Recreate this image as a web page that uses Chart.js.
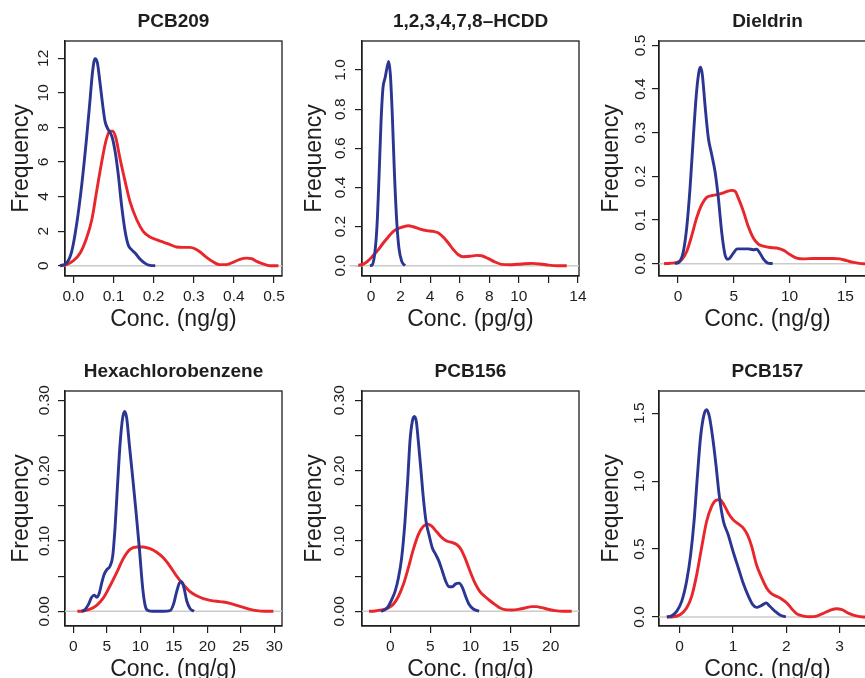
<!DOCTYPE html>
<html>
<head>
<meta charset="utf-8">
<script src="https://cdn.jsdelivr.net/npm/chart.js@4.4.0/dist/chart.umd.min.js"></script>
<style>
  html, body { margin: 0; padding: 0; background: #fff; overflow: hidden; }
  body { width: 865px; height: 678px; position: relative; }
  canvas { position: absolute; }
</style>
</head>
<body>
<script>
// density curves, [conc, frequency]
const pcb209Blue = [[-0.033,0],[-0.017,0.15],[-0.004,0.83],[0.008,2.37],[0.021,4.69],[0.033,7.39],[0.042,9.7],[0.048,11.25],[0.054,11.98],[0.06,11.73],[0.066,10.67],[0.073,9.32],[0.079,8.35],[0.087,7.87],[0.096,7.49],[0.104,6.62],[0.112,5.27],[0.12,3.53],[0.129,1.99],[0.137,1.18],[0.145,0.93],[0.156,0.68],[0.166,0.39],[0.179,0.135],[0.191,0.02],[0.204,0]];
const pcb209Red = [[-0.033,0],[-0.017,0.06],[0,0.29],[0.017,0.73],[0.033,1.6],[0.046,2.66],[0.058,4.3],[0.071,6.04],[0.081,7.2],[0.091,7.78],[0.098,7.78],[0.106,7.39],[0.116,6.23],[0.129,4.88],[0.141,3.72],[0.158,2.66],[0.174,1.99],[0.191,1.66],[0.208,1.5],[0.224,1.37],[0.241,1.22],[0.257,1.08],[0.274,1.06],[0.291,1.06],[0.303,0.98],[0.316,0.79],[0.332,0.48],[0.349,0.21],[0.365,0.06],[0.382,0.06],[0.399,0.21],[0.415,0.37],[0.432,0.44],[0.444,0.41],[0.457,0.25],[0.473,0.1],[0.49,0],[0.511,0]];

const hcddBlue = [[-0.07,0],[0.09,0.005],[0.27,0.073],[0.41,0.21],[0.54,0.448],[0.68,0.738],[0.81,0.908],[0.95,0.959],[1.08,1.01],[1.2,1.044],[1.31,0.976],[1.44,0.772],[1.58,0.482],[1.74,0.227],[1.89,0.09],[2.08,0.022],[2.3,0]];
const hcddRed = [[-1.45,0],[-0.86,0.002],[-0.52,0.008],[-0.18,0.026],[0.16,0.053],[0.5,0.082],[0.83,0.116],[1.17,0.147],[1.51,0.175],[1.85,0.19],[2.19,0.199],[2.53,0.204],[2.86,0.199],[3.32,0.187],[3.77,0.179],[4.22,0.175],[4.56,0.167],[4.9,0.145],[5.23,0.116],[5.57,0.082],[5.91,0.056],[6.25,0.046],[6.7,0.048],[7.15,0.053],[7.49,0.051],[7.94,0.036],[8.39,0.019],[8.84,0.007],[9.52,0.005],[10.2,0.009],[10.87,0.012],[11.44,0.009],[12,0.003],[12.68,0],[13.24,0]];

const dieldrinBlue = [[-0.27,0],[0.12,0.004],[0.48,0.028],[0.78,0.082],[1.08,0.173],[1.37,0.288],[1.67,0.395],[1.91,0.444],[2.03,0.45],[2.18,0.433],[2.42,0.364],[2.72,0.288],[3.02,0.25],[3.32,0.211],[3.62,0.15],[3.91,0.074],[4.21,0.021],[4.45,0.01],[4.66,0.013],[4.96,0.024],[5.32,0.034],[5.86,0.034],[6.3,0.034],[6.75,0.032],[7.05,0.033],[7.35,0.024],[7.65,0.011],[8.01,0.002],[8.49,0]];
const dieldrinRed = [[-1.25,0],[-0.72,0.001],[-0.12,0.003],[0.33,0.009],[0.78,0.028],[1.22,0.063],[1.67,0.105],[2.12,0.135],[2.57,0.152],[3.02,0.156],[3.47,0.158],[3.91,0.161],[4.36,0.165],[4.81,0.168],[5.11,0.166],[5.41,0.15],[5.86,0.12],[6.3,0.085],[6.75,0.059],[7.2,0.045],[7.65,0.04],[8.25,0.037],[8.84,0.036],[9.44,0.031],[10.04,0.021],[10.64,0.013],[11.23,0.011],[12.13,0.012],[13.03,0.012],[13.92,0.012],[14.52,0.011],[15.12,0.007],[15.72,0.003],[16.61,0],[18.5,0]];

const hcbBlue = [[1.24,0],[1.74,0.0024],[2.24,0.0095],[2.74,0.02],[3.13,0.023],[3.48,0.02],[3.88,0.026],[4.23,0.04],[4.58,0.052],[4.98,0.059],[5.47,0.064],[5.87,0.078],[6.22,0.118],[6.57,0.175],[6.97,0.237],[7.36,0.275],[7.66,0.284],[7.96,0.275],[8.36,0.237],[8.86,0.19],[9.35,0.142],[9.85,0.09],[10.35,0.033],[10.75,0.007],[11.19,0.001],[11.94,0],[13.43,0],[14.43,0.001],[14.93,0.0095],[15.42,0.028],[15.82,0.04],[16.17,0.042],[16.52,0.033],[16.92,0.015],[17.41,0.004],[18.01,0]];
const hcbRed = [[0.6,0],[1.49,0.0005],[2.49,0.003],[3.48,0.0085],[4.48,0.019],[5.47,0.036],[6.47,0.055],[7.46,0.075],[8.46,0.088],[9.45,0.0915],[10.45,0.0915],[11.44,0.089],[12.44,0.084],[13.43,0.076],[14.43,0.064],[15.42,0.05],[16.42,0.038],[17.41,0.028],[18.41,0.022],[19.4,0.018],[20.4,0.0156],[21.39,0.0142],[22.39,0.0133],[23.38,0.0114],[24.38,0.0085],[25.37,0.0057],[26.37,0.0028],[27.36,0.0009],[28.61,0],[29.85,0]];

const pcb156Blue = [[-1.16,0],[-0.67,0.0024],[-0.25,0.007],[0.17,0.0166],[0.58,0.028],[1,0.047],[1.41,0.076],[1.83,0.128],[2.16,0.185],[2.45,0.242],[2.74,0.27],[2.99,0.277],[3.24,0.27],[3.49,0.242],[3.83,0.199],[4.12,0.161],[4.45,0.128],[4.82,0.109],[5.24,0.09],[5.65,0.081],[6.07,0.071],[6.49,0.057],[6.9,0.043],[7.32,0.035],[7.73,0.035],[8.15,0.039],[8.57,0.04],[8.98,0.034],[9.4,0.021],[9.81,0.01],[10.35,0.0033],[11.06,0]];
const pcb156Red = [[-2.66,0],[-1.91,0.0005],[-1.08,0.002],[-0.25,0.0047],[0.37,0.01],[1,0.021],[1.62,0.038],[2.25,0.062],[2.87,0.088],[3.49,0.109],[4.12,0.121],[4.66,0.124],[5.16,0.121],[5.78,0.113],[6.4,0.105],[7.03,0.1],[7.65,0.098],[8.27,0.095],[8.82,0.088],[9.31,0.076],[9.94,0.057],[10.56,0.04],[11.18,0.028],[11.81,0.021],[12.43,0.015],[13.06,0.0095],[13.68,0.0047],[14.3,0.0024],[15.14,0.0019],[15.97,0.0028],[16.8,0.0047],[17.63,0.0066],[18.25,0.0066],[18.88,0.0052],[19.71,0.0028],[20.54,0.0009],[21.58,0],[22.62,0]];

const pcb157Blue = [[-0.24,0],[-0.15,0.01],[-0.056,0.042],[0.038,0.115],[0.13,0.263],[0.206,0.459],[0.27,0.705],[0.33,1.024],[0.39,1.318],[0.456,1.49],[0.506,1.527],[0.556,1.478],[0.62,1.318],[0.68,1.122],[0.74,0.901],[0.82,0.705],[0.91,0.606],[1,0.484],[1.1,0.361],[1.19,0.25],[1.29,0.152],[1.37,0.091],[1.44,0.071],[1.54,0.086],[1.62,0.103],[1.69,0.079],[1.79,0.042],[1.88,0.015],[1.99,0]];
const pcb157Red = [[-0.24,0],[-0.12,0.002],[0.006,0.017],[0.13,0.066],[0.225,0.152],[0.32,0.312],[0.41,0.508],[0.506,0.705],[0.6,0.815],[0.68,0.859],[0.756,0.864],[0.83,0.827],[0.91,0.766],[1,0.717],[1.1,0.685],[1.19,0.656],[1.27,0.606],[1.35,0.52],[1.44,0.385],[1.54,0.287],[1.63,0.214],[1.72,0.172],[1.82,0.152],[1.91,0.133],[2.01,0.103],[2.1,0.061],[2.19,0.025],[2.32,0.007],[2.44,0.002],[2.57,0.007],[2.69,0.027],[2.82,0.049],[2.94,0.061],[3.04,0.054],[3.16,0.029],[3.29,0.01],[3.44,0],[3.8,0]];

// tick values and labels
const pcb209XTicks = [0, 0.1, 0.2, 0.3, 0.4, 0.5];
const pcb209XLabels = ['0.0', '0.1', '0.2', '0.3', '0.4', '0.5'];
const pcb209YTicks = [0, 2, 4, 6, 8, 10, 12];
const pcb209YLabels = ['0', '2', '4', '6', '8', '10', '12'];
const hcddXTicks = [0, 2, 4, 6, 8, 10, 12, 14];
const hcddXLabels = ['0', '2', '4', '6', '8', '10', '', '14'];
const hcddYTicks = [0, 0.2, 0.4, 0.6, 0.8, 1.0];
const hcddYLabels = ['0.0', '0.2', '0.4', '0.6', '0.8', '1.0'];
const dieldrinXTicks = [0, 5, 10, 15];
const dieldrinXLabels = ['0', '5', '10', '15'];
const dieldrinYTicks = [0, 0.1, 0.2, 0.3, 0.4, 0.5];
const dieldrinYLabels = ['0.0', '0.1', '0.2', '0.3', '0.4', '0.5'];
const hcbXTicks = [0, 5, 10, 15, 20, 25, 30];
const hcbXLabels = ['0', '5', '10', '15', '20', '25', '30'];
const pcb156XTicks = [0, 5, 10, 15, 20];
const pcb156XLabels = ['0', '5', '10', '15', '20'];
const smallYTicks = [0, 0.05, 0.10, 0.15, 0.20, 0.25, 0.30];
const smallYLabels = ['0.00', '', '0.10', '', '0.20', '', '0.30'];
const pcb157XTicks = [0, 1, 2, 3];
const pcb157XLabels = ['0', '1', '2', '3'];
const pcb157YTicks = [0, 0.5, 1.0, 1.5];
const pcb157YLabels = ['0.0', '0.5', '1.0', '1.5'];

const _RED = '#e8262b';
const _BLUE = '#2b3592';
const _GRAY = '#cbcbcb';
const _INK = '#1e1e1e';

Chart.defaults.font.family = '"Liberation Sans", Arial, Helvetica, sans-serif';
Chart.defaults.color = _INK;

const colLeft = [0, 297, 594];
const rowTop = [0, 350];

const panels = [
    {title: 'PCB209', unit: 'Conc. (ng/g)', col: 0, row: 0, xr: [-0.0208, 0.520], yr: [-0.596, 13.0],
     xt: pcb209XTicks, xl: pcb209XLabels, yt: pcb209YTicks, yl: pcb209YLabels,
     red: pcb209Red, blue: pcb209Blue, yPad: 5.4, ytPad: 9.9},
    {title: '1,2,3,4,7,8\u2013HCDD', unit: 'Conc. (pg/g)', col: 1, row: 0, xr: [-0.609, 14.07], yr: [-0.0526, 1.148],
     xt: hcddXTicks, xl: hcddXLabels, yt: hcddYTicks, yl: hcddYLabels,
     red: hcddRed, blue: hcddBlue, yPad: 4.0, ytPad: 6.5},
    {title: 'Dieldrin', unit: 'Conc. (ng/g)', col: 2, row: 0, xr: [-1.703, 17.75], yr: [-0.0282, 0.510],
     xt: dieldrinXTicks, xl: dieldrinXLabels, yt: dieldrinYTicks, yl: dieldrinYLabels,
     red: dieldrinRed, blue: dieldrinBlue, yPad: 0.3, ytPad: 6.5},
    {title: 'Hexachlorobenzene', unit: 'Conc. (ng/g)', col: 0, row: 1, xr: [-1.243, 31.14], yr: [-0.0209, 0.3132],
     xt: hcbXTicks, xl: hcbXLabels, yt: smallYTicks, yl: smallYLabels,
     red: hcbRed, blue: hcbBlue, yPad: -1.6, ytPad: 9.9},
    {title: 'PCB156', unit: 'Conc. (ng/g)', col: 1, row: 1, xr: [-3.534, 23.53], yr: [-0.0209, 0.3132],
     xt: pcb156XTicks, xl: pcb156XLabels, yt: smallYTicks, yl: smallYLabels,
     red: pcb156Red, blue: pcb156Blue, yPad: -0.2, ytPad: 6.5},
    {title: 'PCB157', unit: 'Conc. (ng/g)', col: 2, row: 1, xr: [-0.3875, 3.681], yr: [-0.0663, 1.664],
     xt: pcb157XTicks, xl: pcb157XLabels, yt: pcb157YTicks, yl: pcb157YLabels,
     red: pcb157Red, blue: pcb157Blue, yPad: 2.0, ytPad: 6.5}
];

// frame around the plot region
const boxPlugin = {
    id: 'box',
    beforeDatasetsDraw(chart) {
        const a = chart.chartArea;
        const ctx = chart.ctx;
        ctx.save();
        ctx.strokeStyle = _INK;
        ctx.lineWidth = 1.3;
        ctx.strokeRect(a.left, a.top, a.right - a.left, a.bottom - a.top);
        ctx.restore();
    }
};

function toXY(list) {
    return list.map(p => ({x: p[0], y: p[1]}));
}

function axisCommon() {
    return {
        grid: {drawOnChartArea: false, drawTicks: true, tickLength: 7, color: _INK, lineWidth: 1.2},
        border: {display: true, color: _INK, width: 1.3}
    };
}

panels.forEach(function (p) {
    const cv = document.createElement('canvas');
    cv.width = 297;
    cv.height = 336;
    cv.style.left = colLeft[p.col] + 'px';
    cv.style.top = rowTop[p.row] + 'px';
    document.body.appendChild(cv);

    const lo = Math.min(p.xr[0], p.red[0][0], p.blue[0][0]);

    new Chart(cv.getContext('2d'), {
        type: 'line',
        data: {
            datasets: [
                {data: toXY(p.blue), borderColor: _BLUE, order: 0},
                {data: toXY(p.red), borderColor: _RED, order: 1},
                {data: [{x: lo, y: 0}, {x: p.xr[1], y: 0}], borderColor: _GRAY, borderWidth: 1.5, order: 2}
            ]
        },
        options: {
            responsive: false,
            animation: false,
            devicePixelRatio: 1,
            datasets: {
                line: {pointRadius: 0, borderWidth: 2.9, cubicInterpolationMode: 'monotone', fill: false, clip: false}
            },
            layout: {padding: {top: 0, right: 15, bottom: 0, left: 0}},
            plugins: {
                legend: {display: false},
                tooltip: {enabled: false},
                title: {
                    display: true,
                    text: p.title,
                    fullSize: false,
                    color: _INK,
                    font: {size: 19, weight: 'bold', lineHeight: 1},
                    padding: {top: 12, bottom: 10}
                }
            },
            scales: {
                x: Object.assign(axisCommon(), {
                    type: 'linear',
                    min: p.xr[0],
                    max: p.xr[1],
                    afterFit: s => { s.height = 60; },
                    afterBuildTicks: s => { s.ticks = p.xt.map(v => ({value: v})); },
                    ticks: {
                        callback: (v, i) => p.xl[i],
                        autoSkip: false, minRotation: 0, maxRotation: 0,
                        padding: 4, color: _INK, font: {size: 15.5}
                    },
                    title: {display: true, text: p.unit, color: _INK,
                        font: {size: 23, lineHeight: 1}, padding: {top: 0, bottom: 4.5}}
                }),
                y: Object.assign(axisCommon(), {
                    type: 'linear',
                    min: p.yr[0],
                    max: p.yr[1],
                    afterFit: s => { s.width = 65; },
                    afterBuildTicks: s => { s.ticks = p.yt.map(v => ({value: v})); },
                    ticks: {
                        callback: (v, i) => p.yl[i],
                        autoSkip: false, minRotation: 90, maxRotation: 90, crossAlign: 'center',
                        padding: p.yPad, color: _INK, font: {size: 15.5}
                    },
                    title: {display: true, text: 'Frequency', color: _INK,
                        font: {size: 23, lineHeight: 1}, padding: {top: p.ytPad, bottom: 0}}
                })
            }
        },
        plugins: [boxPlugin]
    });
});
</script>
</body>
</html>
